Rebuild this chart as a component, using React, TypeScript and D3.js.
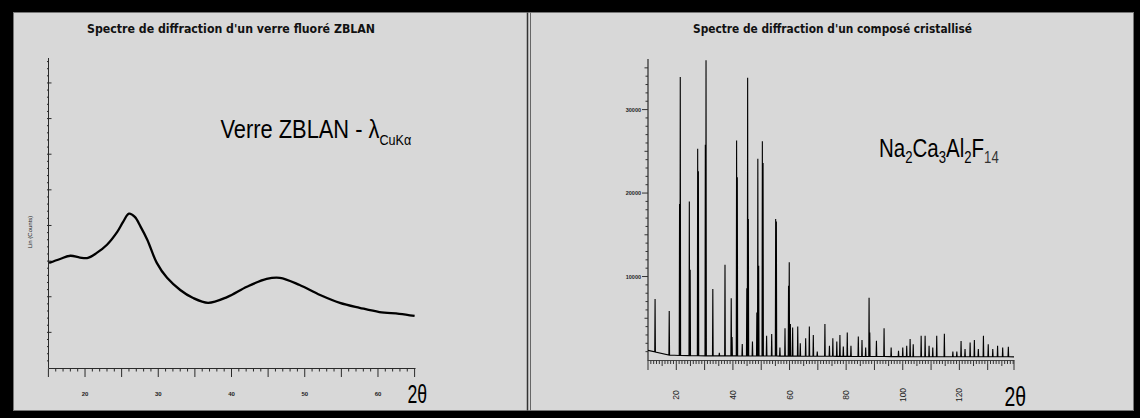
import React from 'react';
import * as d3 from 'd3';

const W = 1140;
const H = 418;

// left panel: ZBLAN glass, 2θ (deg) / intensity (axis units, no labels)
const glassTheta = [15.1, 16.6, 18.0, 19.3, 20.4, 21.6, 23.0, 24.4, 25.2, 26.0, 26.8, 27.6, 28.5, 29.8, 31.2, 33.0, 34.7, 36.8, 39.4, 42.1, 44.8, 46.6, 49.3, 52.1, 54.8, 57.5, 60.2, 62.9, 65.0];
const glassInt = [2.95, 3.06, 3.15, 3.10, 3.09, 3.23, 3.46, 3.82, 4.10, 4.33, 4.24, 3.96, 3.60, 2.95, 2.53, 2.19, 1.97, 1.83, 1.99, 2.28, 2.50, 2.53, 2.33, 2.05, 1.83, 1.69, 1.57, 1.52, 1.46];
const glassXTicks = [20, 30, 40, 50, 60];

// right panel: Na2Ca3Al2F14 peaks (2θ, counts)
const peakTheta = [12.5, 17.5, 21.15, 21.4, 24.6, 24.9, 27.55, 27.8, 30.25, 30.5, 32.9, 35.2, 37.2, 39.4, 39.7, 41.3, 41.55, 43.3, 44.9, 45.2, 45.45, 46.9, 48.45, 48.8, 49.1, 50.4, 50.65, 51.9, 53.7, 55.1, 55.35, 56.6, 58.4, 59.65, 59.9, 60.3, 61.1, 62.9, 63.8, 65.7, 67.0, 68.4, 69.8, 72.5, 74.1, 75.3, 76.7, 77.8, 79.0, 80.4, 81.7, 84.3, 85.6, 86.9, 88.1, 88.35, 90.7, 93.4, 95.9, 98.5, 100.0, 101.4, 102.6, 103.7, 106.5, 107.9, 109.3, 110.6, 112.0, 114.7, 117.7, 119.1, 120.6, 122.0, 123.8, 125.3, 126.7, 128.5, 130.2, 131.8, 133.5, 135.3, 137.3];
const peakCounts = [7300, 5870, 18700, 33900, 19000, 10800, 25300, 22600, 25800, 35900, 8500, 870, 11400, 7400, 2750, 26300, 21900, 1900, 8600, 33800, 16900, 2200, 5700, 24100, 11300, 26200, 23600, 2900, 3100, 16900, 16600, 1500, 3800, 8900, 11700, 4300, 3900, 4000, 2000, 2600, 4000, 3000, 1000, 4300, 1700, 2600, 2200, 3000, 1600, 3300, 1700, 2800, 2400, 1500, 7460, 3300, 2300, 3800, 1500, 1100, 1500, 1700, 2500, 1900, 2900, 2900, 1700, 1500, 2900, 3150, 1000, 1000, 2270, 1300, 2100, 2400, 1300, 2900, 1900, 1300, 1700, 1500, 1600];
const baseTheta = [10, 11, 12, 13.5, 15, 20, 30, 50, 70, 100, 139.3];
const baseCounts = [1150, 1100, 1050, 800, 650, 550, 500, 480, 450, 400, 380];
const crystXTicks = [20, 40, 60, 80, 100, 120];
const crystYTicks = [10000, 20000, 30000];

const titleFont = '"DejaVu Sans", sans-serif';
const sansFont = '"Liberation Sans", Arial, sans-serif';

export default function App() {
  // left scales
  const xL = d3.scaleLinear().domain([15, 65]).range([48.4, 414.6]);
  const yL = d3.scaleLinear().domain([0, 8.7]).range([368, 58]);
  const glassLine = d3.line<number>()
    .x((_, i) => xL(glassTheta[i]))
    .y((d) => yL(d))
    .curve(d3.curveCatmullRom);

  // right scales
  const xR = d3.scaleLinear().domain([10, 139.3]).range([648, 1014]);
  const yR = d3.scaleLinear().domain([0, 36000]).range([360, 59.5]);
  const base = d3.scaleLinear().domain(baseTheta).range(baseCounts);
  const hw = 0.12;
  const order = d3.range(peakTheta.length).sort((a, b) => peakTheta[a] - peakTheta[b]);
  const pts: [number, number][] = [[10, base(10)]];
  order.forEach((i) => {
    const t = peakTheta[i];
    pts.push([t - hw, base(t - hw)], [t, peakCounts[i]], [t + hw, base(t + hw)]);
  });
  pts.push([139.3, base(139.3)]);
  const crystLine = d3.line<[number, number]>()
    .x((d) => xR(d[0]))
    .y((d) => yR(d[1]));

  const axisCol = '#2a2a2a';

  return (
    <svg width={W} height={H} style={{ position: 'absolute', left: 0, top: 0 }}>
      <rect x={0} y={0} width={W} height={H} fill="#000" />
      <rect x={13.5} y={12.5} width={1120} height={398} fill="#d8d8d8" stroke="#777" />
      <line x1={527.5} x2={527.5} y1={12.5} y2={410.5} stroke="#333" strokeWidth={1.5} />
      <line x1={530.5} x2={530.5} y1={12.5} y2={410.5} stroke="#666" />

      {/* left panel */}
      <text x={231} y={33} textAnchor="middle" fontFamily={titleFont} fontWeight="bold" fontSize={12}
        textLength={288} lengthAdjust="spacingAndGlyphs" fill="#111">
        Spectre de diffraction d'un verre fluoré ZBLAN
      </text>
      <line x1={48.5} x2={48.5} y1={58} y2={368} stroke={axisCol} />
      {d3.range(0.2, 8.7, 0.2).map((v) => (
        <line key={'lym' + v} x1={47} x2={48.5} y1={yL(v)} y2={yL(v)} stroke={axisCol} />
      ))}
      {d3.range(1, 9).map((v) => (
        <line key={'lyM' + v} x1={48.5} x2={51.5} y1={yL(v)} y2={yL(v)} stroke={axisCol} />
      ))}
      <text transform="translate(32,232) rotate(-90)" textAnchor="middle" fontFamily={sansFont}
        fontSize={6} fill="#222">Lin (Counts)</text>
      <line x1={48.4} x2={415.5} y1={368.5} y2={368.5} stroke={axisCol} />
      {d3.range(15, 65.01, 1).map((v) => (
        <line key={'lx' + v} x1={xL(v)} x2={xL(v)} y1={368.5} y2={v % 5 === 0 ? 377 : 371.5} stroke={axisCol} />
      ))}
      {glassXTicks.map((v) => (
        <text key={'lxt' + v} x={xL(v)} y={395.5} textAnchor="middle" fontFamily={sansFont}
          fontWeight="bold" fontSize={6} fill="#222">{v}</text>
      ))}
      <path d={glassLine(glassInt) || ''} fill="none" stroke="#000" strokeWidth={2.3} />
      <g transform="translate(220.5,138.3) scale(0.84,1)">
        <text fontFamily={sansFont} fontSize={26} fill="#000">
          Verre ZBLAN - λ<tspan fontSize={15} dy={6.5}>CuKα</tspan>
        </text>
      </g>
      <g transform="translate(407.5,403) scale(0.68,1)">
        <text fontFamily={sansFont} fontSize={26} fill="#000">2θ</text>
      </g>

      {/* right panel */}
      <text x={832.5} y={33} textAnchor="middle" fontFamily={titleFont} fontWeight="bold" fontSize={12}
        textLength={279} lengthAdjust="spacingAndGlyphs" fill="#111">
        Spectre de diffraction d'un composé cristallisé
      </text>
      <line x1={648} x2={648} y1={59} y2={360.5} stroke="#444" strokeWidth={1.4} />
      {d3.range(1000, 36000, 1000).map((v) => (
        <line key={'rym' + v} x1={v % 10000 === 0 ? 642 : v % 5000 === 0 ? 644.5 : 645.5} x2={648}
          y1={yR(v)} y2={yR(v)} stroke="#333" />
      ))}
      {crystYTicks.map((v) => (
        <text key={'ryt' + v} x={641} y={yR(v) + 2} textAnchor="end" fontFamily={sansFont}
          fontWeight="bold" fontSize={5.5} fill="#222">{v}</text>
      ))}
      <line x1={647.5} x2={1014.5} y1={360.5} y2={360.5} stroke="#444" strokeWidth={1.2} />
      {d3.range(10, 139.5, 1).map((v) => (
        <line key={'rx' + v} x1={xR(v)} x2={xR(v)} y1={360.5}
          y2={v % 10 === 0 ? 370 : v % 5 === 0 ? 366 : 364} stroke="#333" />
      ))}
      <line x1={1014} x2={1014} y1={360.5} y2={370} stroke="#333" />
      {crystXTicks.map((v) => (
        <text key={'rxt' + v} transform={`translate(${xR(v)},395) rotate(-90)`} textAnchor="middle"
          dominantBaseline="central" fontFamily={sansFont} fontSize={8.5} fill="#222">{v}</text>
      ))}
      <path d={crystLine(pts) || ''} fill="none" stroke="#000" strokeWidth={1.1} strokeLinejoin="miter" />
      <g transform="translate(879,156.7) scale(0.82,1)">
        <text fontFamily={sansFont} fontSize={25} fill="#000">
          Na<tspan fontSize={16} dy={6.6}>2</tspan>
          <tspan dy={-6.6}>Ca</tspan><tspan fontSize={16} dy={6.6}>3</tspan>
          <tspan dy={-6.6}>Al</tspan><tspan fontSize={16} dy={6.6}>2</tspan>
          <tspan dy={-6.6}>F</tspan><tspan fontSize={16} dy={6.6} fill="#333">14</tspan>
        </text>
      </g>
      <g transform="translate(1004.5,406) scale(0.72,1)">
        <text fontFamily={sansFont} fontSize={27} fill="#000">2θ</text>
      </g>
    </svg>
  );
}
